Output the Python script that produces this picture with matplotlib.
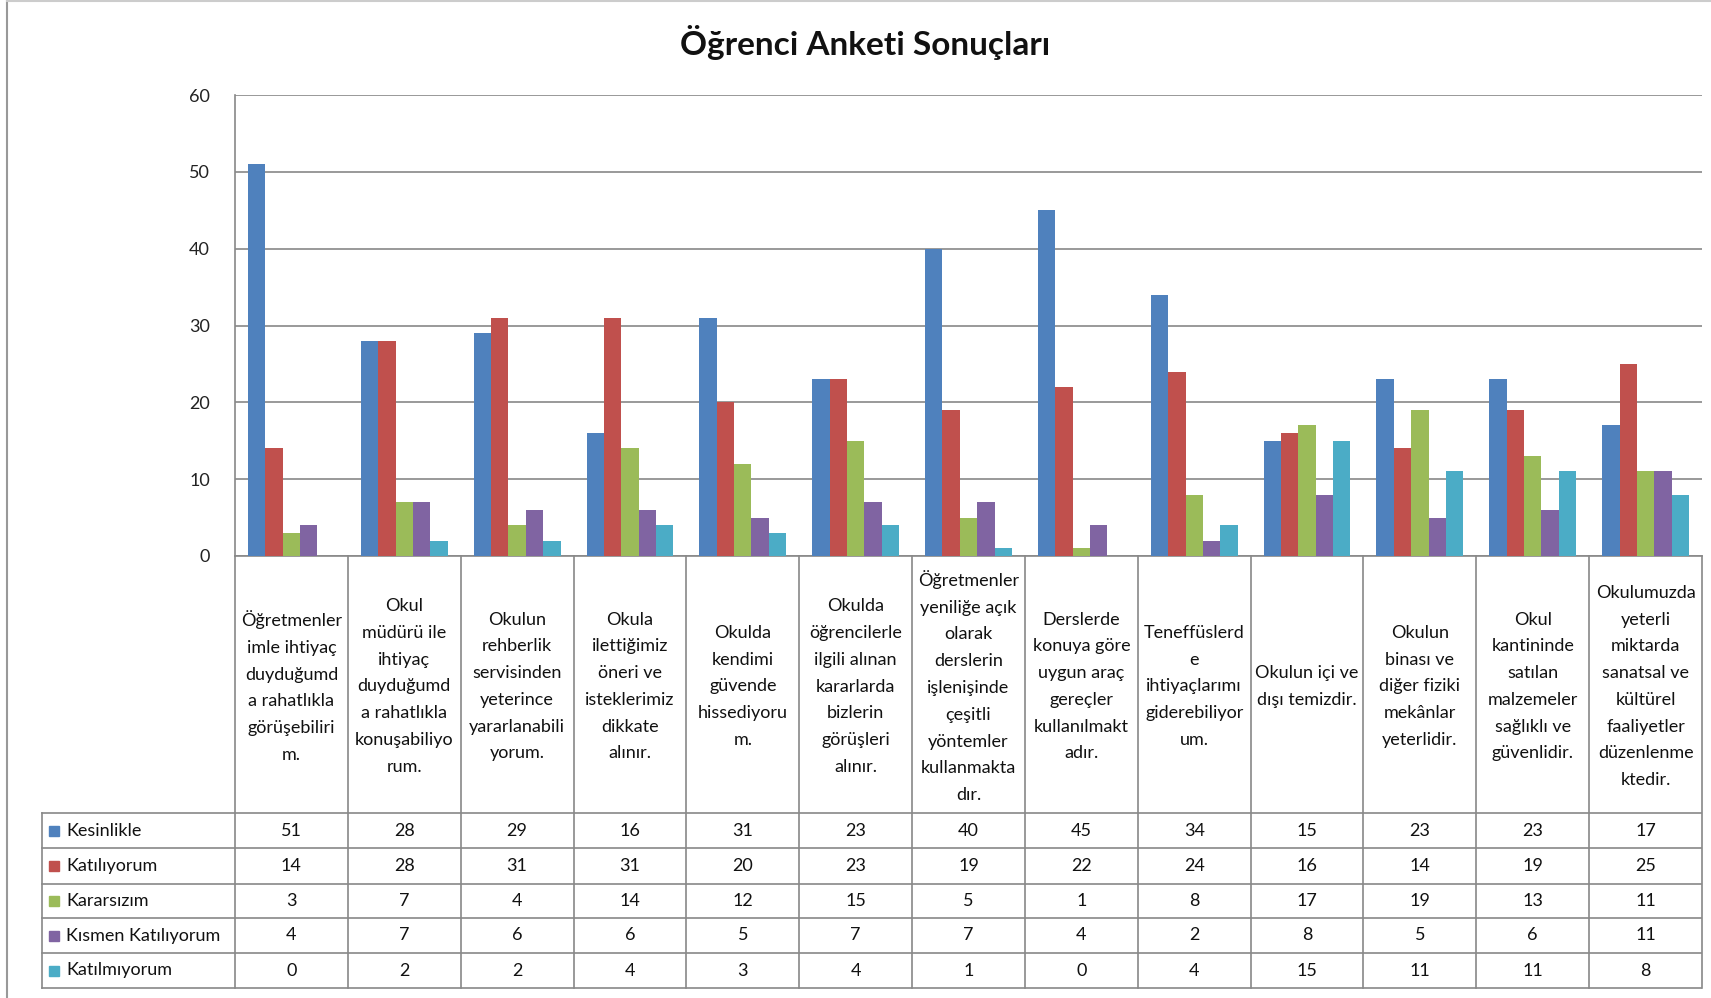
import matplotlib

matplotlib.use("Agg")
import matplotlib.pyplot as plt
from matplotlib.patches import Rectangle
from matplotlib.transforms import blended_transform_factory

plt.rcParams["font.family"] = ["Lato", "DejaVu Sans"]

W, H = 1711, 998

TITLE = "Öğrenci Anketi Sonuçları"

categories = [
    "Öğretmenler\nimle ihtiyaç\nduyduğumd\na rahatlıkla\ngörüşebiliri\nm.",
    "Okul\nmüdürü ile\nihtiyaç\nduyduğumd\na rahatlıkla\nkonuşabiliyo\nrum.",
    "Okulun\nrehberlik\nservisinden\nyeterince\nyararlanabili\nyorum.",
    "Okula\nilettiğimiz\nöneri ve\nisteklerimiz\ndikkate\nalınır.",
    "Okulda\nkendimi\ngüvende\nhissediyoru\nm.",
    "Okulda\nöğrencilerle\nilgili alınan\nkararlarda\nbizlerin\ngörüşleri\nalınır.",
    "Öğretmenler\nyeniliğe açık\nolarak\nderslerin\nişlenişinde\nçeşitli\nyöntemler\nkullanmakta\ndır.",
    "Derslerde\nkonuya göre\nuygun araç\ngereçler\nkullanılmakt\nadır.",
    "Teneffüslerd\ne\nihtiyaçlarımı\ngiderebiliyor\num.",
    "Okulun içi ve\ndışı temizdir.",
    "Okulun\nbinası ve\ndiğer fiziki\nmekânlar\nyeterlidir.",
    "Okul\nkantininde\nsatılan\nmalzemeler\nsağlıklı ve\ngüvenlidir.",
    "Okulumuzda\nyeterli\nmiktarda\nsanatsal ve\nkültürel\nfaaliyetler\ndüzenlenme\nktedir.",
]

series_names = ["Kesinlikle", "Katılıyorum", "Kararsızım", "Kısmen Katılıyorum", "Katılmıyorum"]
kesinlikle = [51, 28, 29, 16, 31, 23, 40, 45, 34, 15, 23, 23, 17]
katiliyorum = [14, 28, 31, 31, 20, 23, 19, 22, 24, 16, 14, 19, 25]
kararsizim = [3, 7, 4, 14, 12, 15, 5, 1, 8, 17, 19, 13, 11]
kismen = [4, 7, 6, 6, 5, 7, 7, 4, 2, 8, 5, 6, 11]
katilmiyorum = [0, 2, 2, 4, 3, 4, 1, 0, 4, 15, 11, 11, 8]
series_values = [kesinlikle, katiliyorum, kararsizim, kismen, katilmiyorum]
colors = ["#4F81BD", "#C0504D", "#9BBB59", "#8064A2", "#4BACC6"]

y_ticks = [0, 10, 20, 30, 40, 50, 60]

GRID = "#888888"

# layout in pixels (top-origin)
plot_left, plot_right = 235, 1702
plot_top, plot_zero = 95, 556
table_rows = [813, 848, 884, 918, 953, 988]
legend_left = 42


def fy(y):
    return 1 - y / H


def fx(x):
    return x / W


fig = plt.figure(figsize=(W / 100, H / 100), dpi=100)
fig.patch.set_facecolor("white")

ax = fig.add_axes([fx(plot_left), fy(plot_zero), fx(plot_right - plot_left),
                   (plot_zero - plot_top) / H])

n = len(categories)
k = len(series_values)
bw = 1 / 6.5
for i, (vals, c) in enumerate(zip(series_values, colors)):
    xs = [g + (i - (k - 1) / 2) * bw for g in range(n)]
    ax.bar(xs, vals, width=bw, color=c, zorder=3, linewidth=0)

ax.set_xlim(-0.5, n - 0.5)
ax.set_ylim(0, 60)
ax.set_yticks(y_ticks)
ax.set_yticklabels([str(t) for t in y_ticks], fontsize=13, color="#222222")
ax.tick_params(axis="y", length=0, pad=18)
ax.set_xticks([])
ax.grid(axis="y", color=GRID, linewidth=1.2, zorder=0)
for s in ["top", "right"]:
    ax.spines[s].set_visible(False)
ax.spines["left"].set_color(GRID)
ax.spines["bottom"].set_color(GRID)
ax.spines["left"].set_linewidth(1.2)
ax.spines["bottom"].set_linewidth(1.2)

# data table below the axes: x from data, y in figure coords
tr = blended_transform_factory(ax.transData, fig.transFigure)
line_kw = dict(color=GRID, linewidth=1.2, clip_on=False)

for j in range(n + 1):
    ax.plot([j - 0.5, j - 0.5], [fy(plot_zero), fy(table_rows[-1])], transform=tr, **line_kw)
for y in table_rows:
    fig.add_artist(plt.Line2D([fx(legend_left), fx(plot_right - 1)], [fy(y), fy(y)], **line_kw))
fig.add_artist(plt.Line2D([fx(legend_left), fx(legend_left)],
                          [fy(table_rows[0]), fy(table_rows[-1])], **line_kw))

# category labels
for j, lab in enumerate(categories):
    ax.text(j, fy((plot_zero + table_rows[0]) / 2 + 2), lab, transform=tr, ha="center",
            va="center", fontsize=13, linespacing=1.83, color="#111111")

# values + legend keys
for r, (name, vals, c) in enumerate(zip(series_names, series_values, colors)):
    yc = fy((table_rows[r] + table_rows[r + 1]) / 2)
    for j, v in enumerate(vals):
        ax.text(j, yc, str(v), transform=tr, ha="center", va="center",
                fontsize=13, color="#111111")
    fig.add_artist(Rectangle((fx(49), yc - 5 / H), 10 / W, 10 / H, color=c,
                             transform=fig.transFigure))
    fig.text(fx(66), yc, name, ha="left", va="center", fontsize=13, color="#111111")

fig.text(fx(865), fy(42), TITLE, ha="center", va="center", fontsize=24,
         fontweight="bold", color="#111111")

# outer chart border
fig.add_artist(plt.Line2D([fx(7), fx(7)], [0, 1], color="#999999", linewidth=1.5))
fig.add_artist(plt.Line2D([fx(7), 1], [fy(1), fy(1)], color="#cccccc", linewidth=1.5))

fig.savefig("out.png", dpi=100)
